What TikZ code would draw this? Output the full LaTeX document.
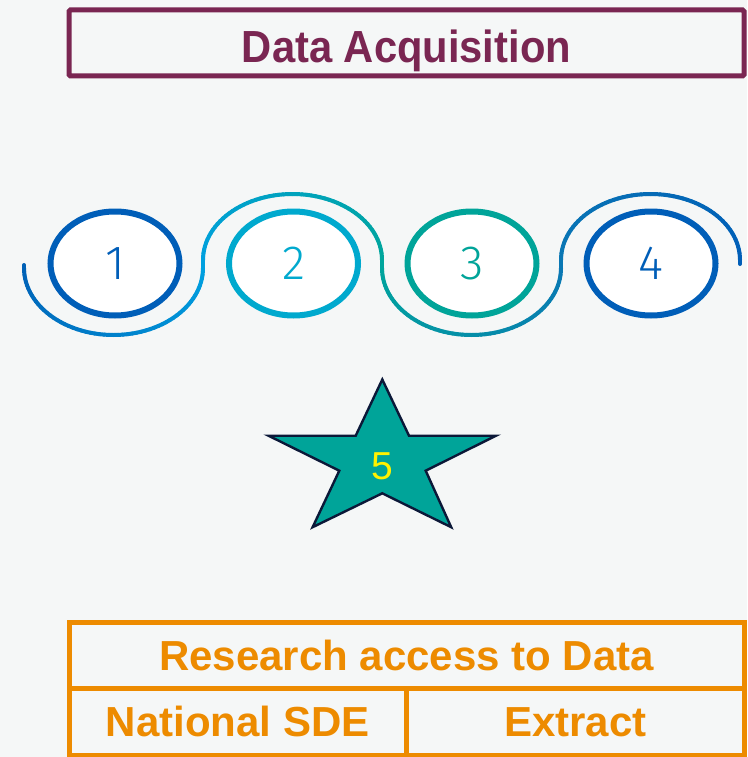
\documentclass[tikz,border=0pt]{standalone}
\usepackage{fontspec}
\setmainfont{Liberation Sans}
\newfontfamily\lightfont{Fira Sans Light}
\usetikzlibrary{shapes.geometric}
\definecolor{bg}{HTML}{F5F7F7}
\definecolor{maroon}{HTML}{7A2652}
\definecolor{nhsorange}{HTML}{ED8B00}
\definecolor{nhsblue}{HTML}{005EB8}
\definecolor{nhslight}{HTML}{00A9CE}
\definecolor{nhsteal}{HTML}{00A499}
\definecolor{starline}{HTML}{0B1838}
\definecolor{arcA}{HTML}{0060B6}
\definecolor{arcB}{HTML}{00A0E0}
\definecolor{arcC}{HTML}{00A59C}
\definecolor{arcD}{HTML}{0A78B4}
\definecolor{arcE}{HTML}{005EB8}
\tikzset{
  wave/.style={line width=4pt, line cap=round},
  stepring/.style={ellipse, line width=6pt, fill=white, inner sep=0pt,
    minimum width=129pt, minimum height=104pt,
    font=\lightfont\fontsize{48}{48}\selectfont},
  boxtext/.style={font=\bfseries\fontsize{42}{42}\selectfont, inner sep=0pt,
    text height=30pt, text depth=0pt},
  orangecell/.style={boxtext, draw=nhsorange, text=nhsorange, line width=5pt}
}
\newcommand\wavepiece[8]{%
 \foreach \k in {0,...,59}{%
  \pgfmathsetmacro\aA{#5+(#6-#5)*\k/60}%
  \pgfmathsetmacro\aB{#5+(#6-#5)*(\k+1)/60}%
  \pgfmathtruncatemacro\p{100-100*(\k+0.5)/60}%
  \draw[wave, draw=#7!\p!#8] ({#1+#3*cos(\aA)},{#2+#4*sin(\aA)}) -- ({#1+#3*cos(\aB)},{#2+#4*sin(\aB)});
 }}
\begin{document}
\begin{tikzpicture}[x=1pt,y=-1pt]
\fill[bg] (0,0) rectangle (747,757);
\useasboundingbox (0,0) rectangle (747,757);

% title box
\node[draw=maroon, text=maroon, line width=5pt, rounded corners=1.5pt, inner sep=0pt,
  font=\bfseries\fontsize{45}{45}\selectfont, text height=32.5pt, text depth=0pt,
  minimum width=675pt, minimum height=66pt] (acq) at (406.5,43)
  {\raisebox{-3.4pt}{\scalebox{0.927}[1]{Data Acquisition}}};

% wave line
\draw[wave, draw=arcA] (24,265) -- (24,268);
\wavepiece{113.5}{268}{89.5}{67}{180}{0}{arcA}{arcB}
\draw[wave, draw=arcB] (203,268) -- (203,260);
\wavepiece{292.5}{260}{89.5}{66}{180}{360}{arcB}{arcC}
\draw[wave, draw=arcC] (382,260) -- (382,268);
\wavepiece{471.5}{268}{89.5}{67}{180}{0}{arcC}{arcD}
\draw[wave, draw=arcD] (561,268) -- (561,260);
\wavepiece{650.5}{260}{89.5}{66}{180}{360}{arcD}{arcE}
\draw[wave, draw=arcE] (740,260) -- (740,264);

% rings
\node[stepring, draw=nhsblue, text=nhsblue] (s1) at (115,263.5) {1};
\node[stepring, draw=nhslight, text=nhslight] (s2) at (293.5,263.5) {2};
\node[stepring, draw=nhsteal, text=nhsteal] (s3) at (472,263.5) {3};
\node[stepring, draw=nhsblue, text=nhsblue] (s4) at (651,263.5) {4};

% star
\draw[fill=nhsteal, draw=starline, line width=2.4pt, line join=miter]
  (382.3,379.5) -- (409,435.7) -- (496,435.7) -- (425.7,470.7) -- (451.2,527.2)
  -- (382.3,493.3) -- (312.6,527.2) -- (339.3,470.7) -- (268.5,435.7)
  -- (355.7,435.7) -- cycle;
\node[text=yellow, font=\fontsize{39}{39}\selectfont, inner sep=0pt] (five) at (382.3,466.7) {5};

% access table
\node[orangecell, minimum width=675pt, minimum height=66pt] (rad) at (406.5,655) {Research access to Data};
\node[orangecell, minimum width=337.5pt, minimum height=67pt] (sde) at (237.75,721.5) {National SDE};
\node[orangecell, minimum width=337.5pt, minimum height=67pt] (ext) at (575.25,721.5) {Extract};
\end{tikzpicture}
\end{document}
